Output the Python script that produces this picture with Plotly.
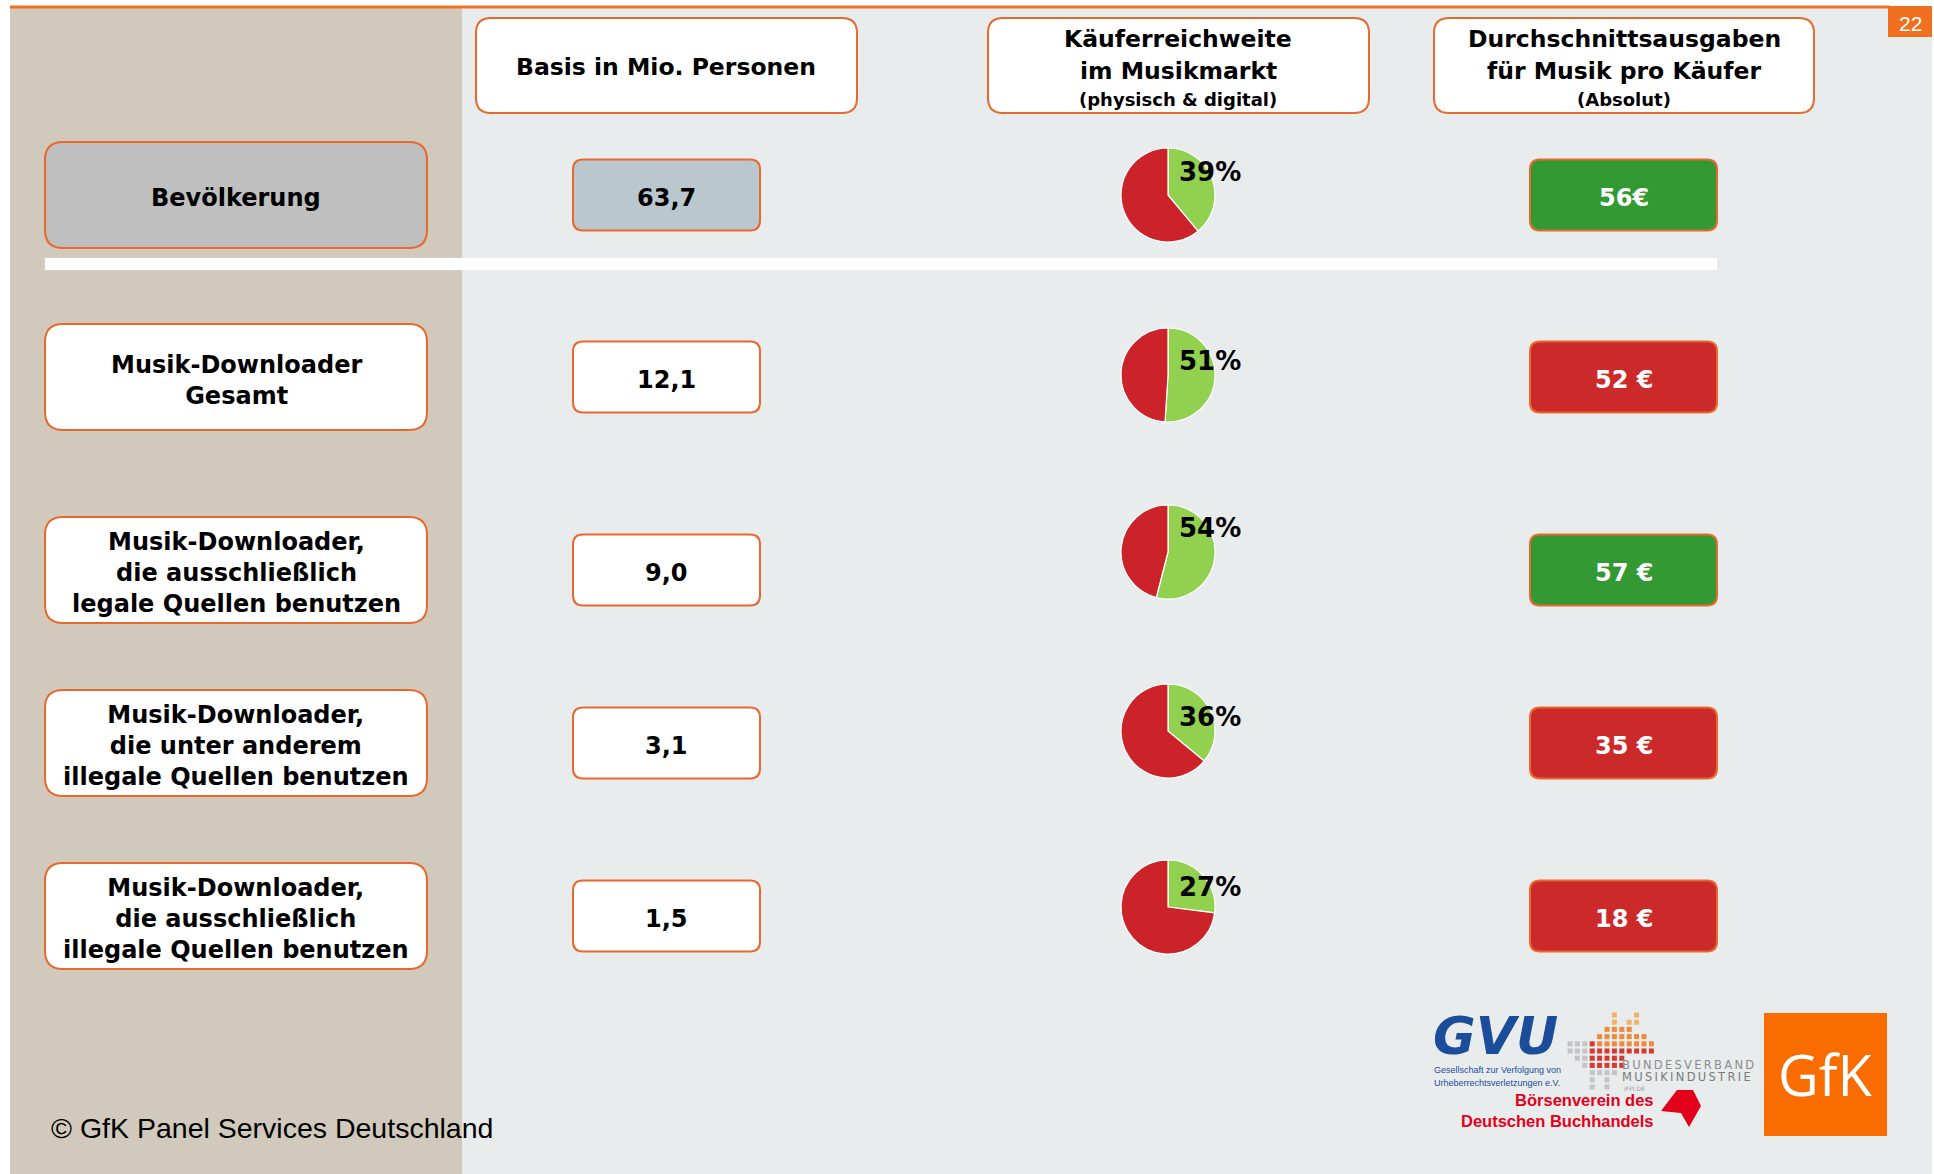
import plotly.graph_objects as go

W, H = 1934, 1174

# ---------------- data ----------------
row_labels = [
    "Bevölkerung",
    "Musik-Downloader<br>Gesamt",
    "Musik-Downloader,<br>die ausschließlich<br>legale Quellen benutzen",
    "Musik-Downloader,<br>die unter anderem<br>illegale Quellen benutzen",
    "Musik-Downloader,<br>die ausschließlich<br>illegale Quellen benutzen",
]
basis_mio = [63.7, 12.1, 9.0, 3.1, 1.5]
reach_pct = [39, 51, 54, 36, 27]
spend_eur = [56, 52, 57, 35, 18]
spend_labels = ["56€", "52 €", "57 €", "35 €", "18 €"]
header_basis = "Basis in Mio. Personen"
header_reach = ["Käuferreichweite", "im Musikmarkt", "(physisch & digital)"]
header_spend = ["Durchschnittsausgaben", "für Musik pro Käufer", "(Absolut)"]
copyright_text = "© GfK Panel Services Deutschland"
page_no = "22"

# ---------------- layout positions / styles ----------------
row_y = [195, 377, 570, 743, 916]
pie_y = [195, 375, 552, 731, 907]
pie_label_y = [172, 361, 528, 717, 887]
PIE_X, PIE_R = 1168, 47
ORANGE = "#E8692D"
BEIGE = "#D1C9BC"
GREYBG = "#E8ECED"
GREEN_BOX = "#339933"
RED_BOX = "#CC2A2A"
PIE_GREEN = "#92D050"
PIE_RED = "#CC2229"
BOLD = "DejaVu Sans"
TXT_DY = 3

shapes = []
annotations = []


def rrect(x0, y0, x1, y1, r, fill, line=ORANGE, lw=2):
    p = (f"M {x0+r},{y0} L {x1-r},{y0} Q {x1},{y0} {x1},{y0+r} "
         f"L {x1},{y1-r} Q {x1},{y1} {x1-r},{y1} L {x0+r},{y1} "
         f"Q {x0},{y1} {x0},{y1-r} L {x0},{y0+r} Q {x0},{y0} {x0+r},{y0} Z")
    shapes.append(dict(type="path", path=p, xref="x", yref="y",
                       fillcolor=fill, line=dict(color=line, width=lw), layer="above"))


def text(x, y, s, size, color="black", family=BOLD, weight="bold",
         xanchor="center", align="center"):
    annotations.append(dict(x=x, y=y, xref="x", yref="y", text=s, showarrow=False,
                            xanchor=xanchor, yanchor="middle", align=align,
                            font=dict(size=size, color=color, family=family, weight=weight)))


def rect(x0, y0, x1, y1, fill, layer="below"):
    shapes.append(dict(type="rect", x0=x0, y0=y0, x1=x1, y1=y1, xref="x", yref="y",
                       fillcolor=fill, line=dict(width=0), layer=layer))


# backgrounds
rect(10, 8, 462, H, BEIGE)
rect(462, 8, 1932, H, GREYBG)
shapes.append(dict(type="line", x0=10, x1=1890, y0=7, y1=7, xref="x", yref="y",
                   line=dict(color="#F07020", width=3)))
rect(1888, 6, 1932, 37, "#F07020", layer="above")
text(1910, 23, page_no, 21, color="white", family="Liberation Sans", weight="normal")

# header boxes
rrect(476, 18, 857, 113, 15, "white")
text(666, 67, header_basis, 23.5)
rrect(988, 18, 1369, 113, 15, "white")
text(1178, 39, header_reach[0], 23.5)
text(1178, 71, header_reach[1], 23.5)
text(1178, 99, header_reach[2], 18)
rrect(1434, 18, 1814, 113, 15, "white")
text(1624, 39, header_spend[0], 23.5)
text(1624, 71, header_spend[1], 23.5)
text(1624, 99, header_spend[2], 18)

# separator
rect(45, 258, 1717, 270, "white", layer="above")

fig = go.Figure()

for i, lab in enumerate(row_labels):
    cy = row_y[i]
    # row label box
    rrect(45, cy - 53, 427, cy + 53, 18, "#BFBFBF" if i == 0 else "white")
    text(236, cy + TXT_DY, lab, 24)
    # basis box
    rrect(573, cy - 35.5, 760, cy + 35.5, 10, "#BAC8CE" if i == 0 else "white")
    text(666, cy + TXT_DY, f"{basis_mio[i]:.1f}".replace(".", ","), 24)
    # spend box
    col = GREEN_BOX if spend_eur[i] >= spend_eur[0] else RED_BOX
    rrect(1530, cy - 35.5, 1717, cy + 35.5, 10, col)
    text(1624, cy + TXT_DY, spend_labels[i], 24, color="white")
    # pie
    py = pie_y[i]
    fig.add_trace(go.Pie(
        values=[reach_pct[i], 100 - reach_pct[i]],
        marker=dict(colors=[PIE_GREEN, PIE_RED], line=dict(color="white", width=1.2)),
        sort=False, direction="clockwise", rotation=0, textinfo="none",
        hoverinfo="skip", showlegend=False,
        domain=dict(x=[(PIE_X - PIE_R) / W, (PIE_X + PIE_R) / W],
                    y=[1 - (py + PIE_R) / H, 1 - (py - PIE_R) / H]),
    ))
    text(1177, pie_label_y[i], f"{reach_pct[i]}%", 26, xanchor="left", align="left")

# copyright
text(49, 1128, copyright_text, 28.5, family="Liberation Sans", weight="normal",
     xanchor="left", align="left")

# ---------------- logos (decoration) ----------------
# GVU
text(1431, 1036, "<i>GVU</i>", 52, color="#1B4D9B", xanchor="left", align="left")
text(1432, 1070, "Gesellschaft zur Verfolgung von", 9, color="#1B4D9B",
     family="Liberation Sans", weight="normal", xanchor="left", align="left")
text(1432, 1083, "Urheberrechtsverletzungen e.V.", 9, color="#1B4D9B",
     family="Liberation Sans", weight="normal", xanchor="left", align="left")

# Bundesverband dots
dot_pattern = [
    "......o..o..",
    "......o.oo..",
    ".....OOOO...",
    "....OOOOOOO.",
    "gggROOOOOOOO",
    "gggRRRRRRRRR",
    ".ggRRRRR....",
    "..gRRRRR....",
    "...gggg.....",
    "...g.g......",
    "...g.g......",
]
dot_colors = {"o": "#F6B26B", "O": "#EF8A3C", "R": "#D8372F", "g": "#C4C4C4"}
dx, dy_, dots_x, dots_c, dots_y = 7.4, 7.2, [], [], []
for r, line in enumerate(dot_pattern):
    for c, ch in enumerate(line):
        if ch in dot_colors:
            dots_x.append(1570 + c * dx)
            dots_y.append(1015 + r * dy_)
            dots_c.append(dot_colors[ch])
fig.add_trace(go.Scatter(x=dots_x, y=dots_y, mode="markers", hoverinfo="skip",
                         marker=dict(symbol="square", size=5, color=dots_c, line=dict(width=0)),
                         showlegend=False))
thin = "\u2009"
text(1620, 1065, thin.join("BUNDESVERBAND"), 11.5, color="#8C8C8C",
     family="DejaVu Sans", weight="normal", xanchor="left", align="left")
text(1620, 1077, thin.join("MUSIKINDUSTRIE"), 11.5, color="#7A7A7A",
     family="DejaVu Sans", weight="normal", xanchor="left", align="left")
text(1622, 1088, "IFPI.DE", 6, color="#9A9A9A",
     family="DejaVu Sans", weight="normal", xanchor="left", align="left")

# Börsenverein
annotations.append(dict(x=1656, y=1110, xref="x", yref="y", showarrow=False,
                        text="Börsenverein des<br>Deutschen Buchhandels",
                        xanchor="right", yanchor="middle", align="right",
                        font=dict(size=16.5, color="#E2001A", family="Liberation Sans",
                                  weight="bold")))
shapes.append(dict(type="path", xref="x", yref="y", layer="above",
                   path="M 1661,1111 L 1677,1090 L 1693,1090 L 1701,1106 L 1689,1127 L 1681,1113 Z",
                   fillcolor="#E2001A", line=dict(width=0)))

# GfK
rect(1764, 1013, 1887, 1136, "#F96C00", layer="above")
text(1825, 1074, "GfK", 56, color="white", family="Open Sans", weight="normal")

fig.update_layout(
    width=W, height=H,
    margin=dict(l=0, r=0, t=0, b=0),
    paper_bgcolor="white", plot_bgcolor="rgba(0,0,0,0)",
    xaxis=dict(range=[0, W], visible=False, fixedrange=True),
    yaxis=dict(range=[H, 0], visible=False, fixedrange=True),
    shapes=shapes, annotations=annotations,
    showlegend=False, hovermode=False,
)

fig.write_html("out.html", config={"displayModeBar": False},
               post_script="document.body.style.margin='0';document.body.style.overflow='hidden';")
